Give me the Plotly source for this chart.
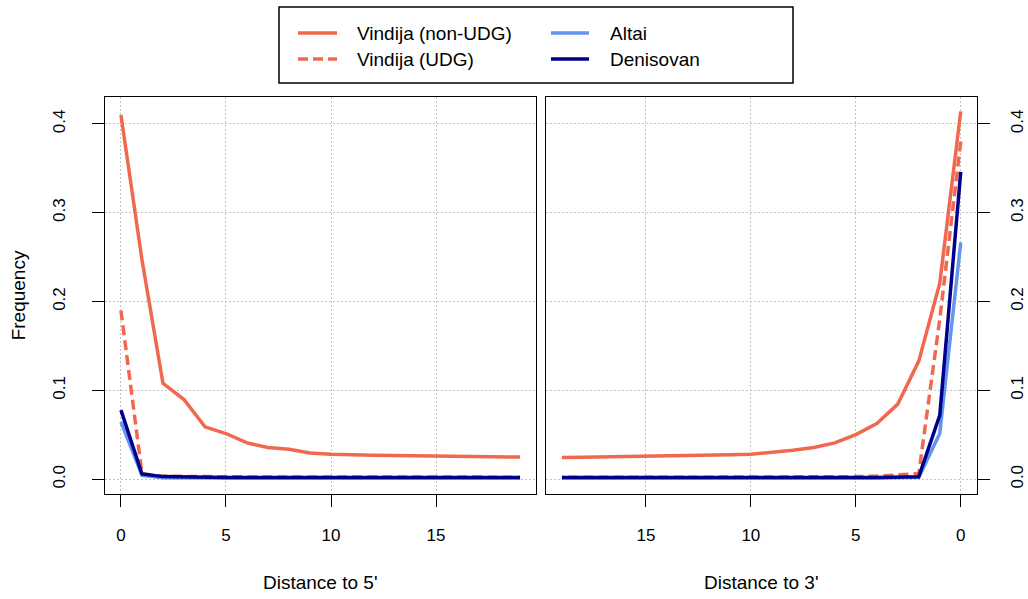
import plotly.graph_objects as go

# Distance (in bases) from the read end
positions = list(range(20))

# Frequencies measured from the 5' end
vindija_nonudg_5p = [0.410, 0.247, 0.108, 0.0898, 0.059, 0.0515, 0.041, 0.0357, 0.0338, 0.0297,
                     0.0282, 0.0274, 0.0270, 0.0268, 0.0266, 0.0264, 0.0262, 0.0258, 0.0254, 0.0250]
vindija_udg_5p = [0.190, 0.0064, 0.0035, 0.0031, 0.0029, 0.0028, 0.0027, 0.0026, 0.0026, 0.0025,
                  0.0025, 0.0025, 0.0025, 0.0025, 0.0025, 0.0025, 0.0024, 0.0024, 0.0024, 0.0024]
altai_5p = [0.0646, 0.0045, 0.0018, 0.0015, 0.0015, 0.0014, 0.0014, 0.0014, 0.0014, 0.0014,
            0.0014, 0.0014, 0.0014, 0.0014, 0.0014, 0.0014, 0.0014, 0.0014, 0.0014, 0.0014]
denisovan_5p = [0.0778, 0.0060, 0.0030, 0.0024, 0.0022, 0.0021, 0.0020, 0.0020, 0.0019, 0.0019,
                0.0019, 0.0019, 0.0019, 0.0019, 0.0019, 0.0019, 0.0019, 0.0019, 0.0019, 0.0019]

# Frequencies measured from the 3' end
vindija_nonudg_3p = [0.414, 0.2206, 0.133, 0.0846, 0.0628, 0.0503, 0.041, 0.0357, 0.0327, 0.0305,
                     0.0282, 0.0275, 0.0270, 0.0262, 0.0258, 0.0252, 0.0250, 0.0248, 0.0247, 0.0245]
vindija_udg_3p = [0.380, 0.180, 0.0064, 0.0045, 0.0035, 0.0030, 0.0028, 0.0027, 0.0026, 0.0025,
                  0.0025, 0.0025, 0.0024, 0.0024, 0.0024, 0.0024, 0.0024, 0.0024, 0.0024, 0.0024]
altai_3p = [0.2665, 0.0515, 0.0022, 0.0016, 0.0015, 0.0015, 0.0014, 0.0014, 0.0014, 0.0014,
            0.0014, 0.0014, 0.0014, 0.0014, 0.0014, 0.0014, 0.0014, 0.0014, 0.0014, 0.0014]
denisovan_3p = [0.3460, 0.072, 0.0028, 0.0022, 0.0020, 0.0020, 0.0019, 0.0019, 0.0019, 0.0019,
                0.0019, 0.0019, 0.0019, 0.0019, 0.0019, 0.0019, 0.0019, 0.0019, 0.0019, 0.0019]

x_ticks = [0, 5, 10, 15]
y_ticks = [0.0, 0.1, 0.2, 0.3, 0.4]
y_tick_text = ["0.0", "0.1", "0.2", "0.3", "0.4"]

series_names = ["Vindija (non-UDG)", "Vindija (UDG)", "Altai", "Denisovan"]
colors = ["#F0694F", "#F0694F", "#6495ED", "#00008B"]
dashes = ["solid", "10px,5px", "solid", "solid"]

W, H = 1028, 599
FONT = "Liberation Sans, Arial, Helvetica, sans-serif"

fig = go.Figure()

left_sets = [vindija_nonudg_5p, vindija_udg_5p, altai_5p, denisovan_5p]
right_sets = [vindija_nonudg_3p, vindija_udg_3p, altai_3p, denisovan_3p]

for name, c, d, ys in zip(series_names, colors, dashes, left_sets):
    fig.add_trace(go.Scatter(x=positions, y=ys, mode="lines", name=name,
                             line=dict(color=c, width=3.5, dash=d),
                             xaxis="x", yaxis="y", showlegend=False))
for name, c, d, ys in zip(series_names, colors, dashes, right_sets):
    fig.add_trace(go.Scatter(x=positions, y=ys, mode="lines", name=name,
                             line=dict(color=c, width=3.5, dash=d),
                             xaxis="x2", yaxis="y2", showlegend=False))

# Panel geometry in pixels
left_px = (105, 536)
right_px = (546, 976.7)
top_px, bottom_px = 96.7, 494

xrange_pad = 19 * 0.04
y_max = 0.414
yrange = [-0.04 * y_max, y_max * 1.04]

grid_style = dict(showgrid=True, gridcolor="#C4C4C4", gridwidth=1, griddash="2px,2px")

common_x = dict(
    showline=True, linecolor="black", linewidth=1.3, mirror=True,
    ticks="outside", ticklen=12, tickwidth=1.3, tickcolor="black",
    tickvals=x_ticks, ticktext=[str(v) for v in x_ticks],
    tickfont=dict(family=FONT, size=17, color="black"),
    zeroline=False, ticklabelstandoff=13, **grid_style,
)
common_y = dict(
    showline=True, linecolor="black", linewidth=1.3, mirror=True,
    ticks="outside", ticklen=12, tickwidth=1.3, tickcolor="black",
    tickvals=y_ticks, ticktext=y_tick_text, tickangle=-90,
    tickfont=dict(family=FONT, size=17, color="black"),
    zeroline=False, range=yrange, **grid_style,
)

y_dom = [(H - bottom_px) / H, (H - top_px) / H]

fig.update_layout(
    width=W, height=H,
    margin=dict(l=0, r=0, t=0, b=0),
    paper_bgcolor="white", plot_bgcolor="white",
    showlegend=False,
    xaxis=dict(common_x, domain=[left_px[0] / W, left_px[1] / W],
               range=[-xrange_pad, 19 + xrange_pad], anchor="y"),
    yaxis=dict(common_y, domain=y_dom, anchor="x", side="left", ticklabelstandoff=20),
    xaxis2=dict(common_x, domain=[right_px[0] / W, right_px[1] / W],
                range=[19 + xrange_pad, -xrange_pad], anchor="y2"),
    yaxis2=dict(common_y, domain=y_dom, anchor="x2", side="right", ticklabelstandoff=13),
)

# Axis titles
annotations = [
    dict(text="Distance to 5'", x=(left_px[0] + left_px[1]) / 2 / W, y=(H - 582) / H),
    dict(text="Distance to 3'", x=(right_px[0] + right_px[1]) / 2 / W, y=(H - 582) / H),
    dict(text="Frequency", x=18 / W, y=(H - (top_px + bottom_px) / 2) / H, textangle=-90),
]
for a in annotations:
    fig.add_annotation(xref="paper", yref="paper", showarrow=False,
                       xanchor="center", yanchor="middle",
                       font=dict(family=FONT, size=19, color="black"), **a)

# Legend box drawn in pixel space
def px_x(v):
    return v / W

def px_y(v):
    return (H - v) / H

fig.add_shape(type="rect", xref="paper", yref="paper",
              x0=px_x(279), x1=px_x(793), y0=px_y(83), y1=px_y(7),
              line=dict(color="black", width=1.5), fillcolor="white", layer="above")

legend_slots = [(298, 337, 355, 33), (298, 337, 355, 59), (551, 589, 608, 33), (551, 589, 608, 59)]
for (lx0, lx1, tx, ly), name, c, d in zip(legend_slots, series_names, colors, dashes):
    fig.add_shape(type="line", xref="paper", yref="paper",
                  x0=px_x(lx0), x1=px_x(lx1), y0=px_y(ly), y1=px_y(ly),
                  line=dict(color=c, width=3.5, dash=d), layer="above")
    fig.add_annotation(xref="paper", yref="paper", showarrow=False,
                       x=px_x(tx), y=px_y(ly), xanchor="left", yanchor="middle",
                       text=name, font=dict(family=FONT, size=19, color="black"))

fig.write_html("out.html")
